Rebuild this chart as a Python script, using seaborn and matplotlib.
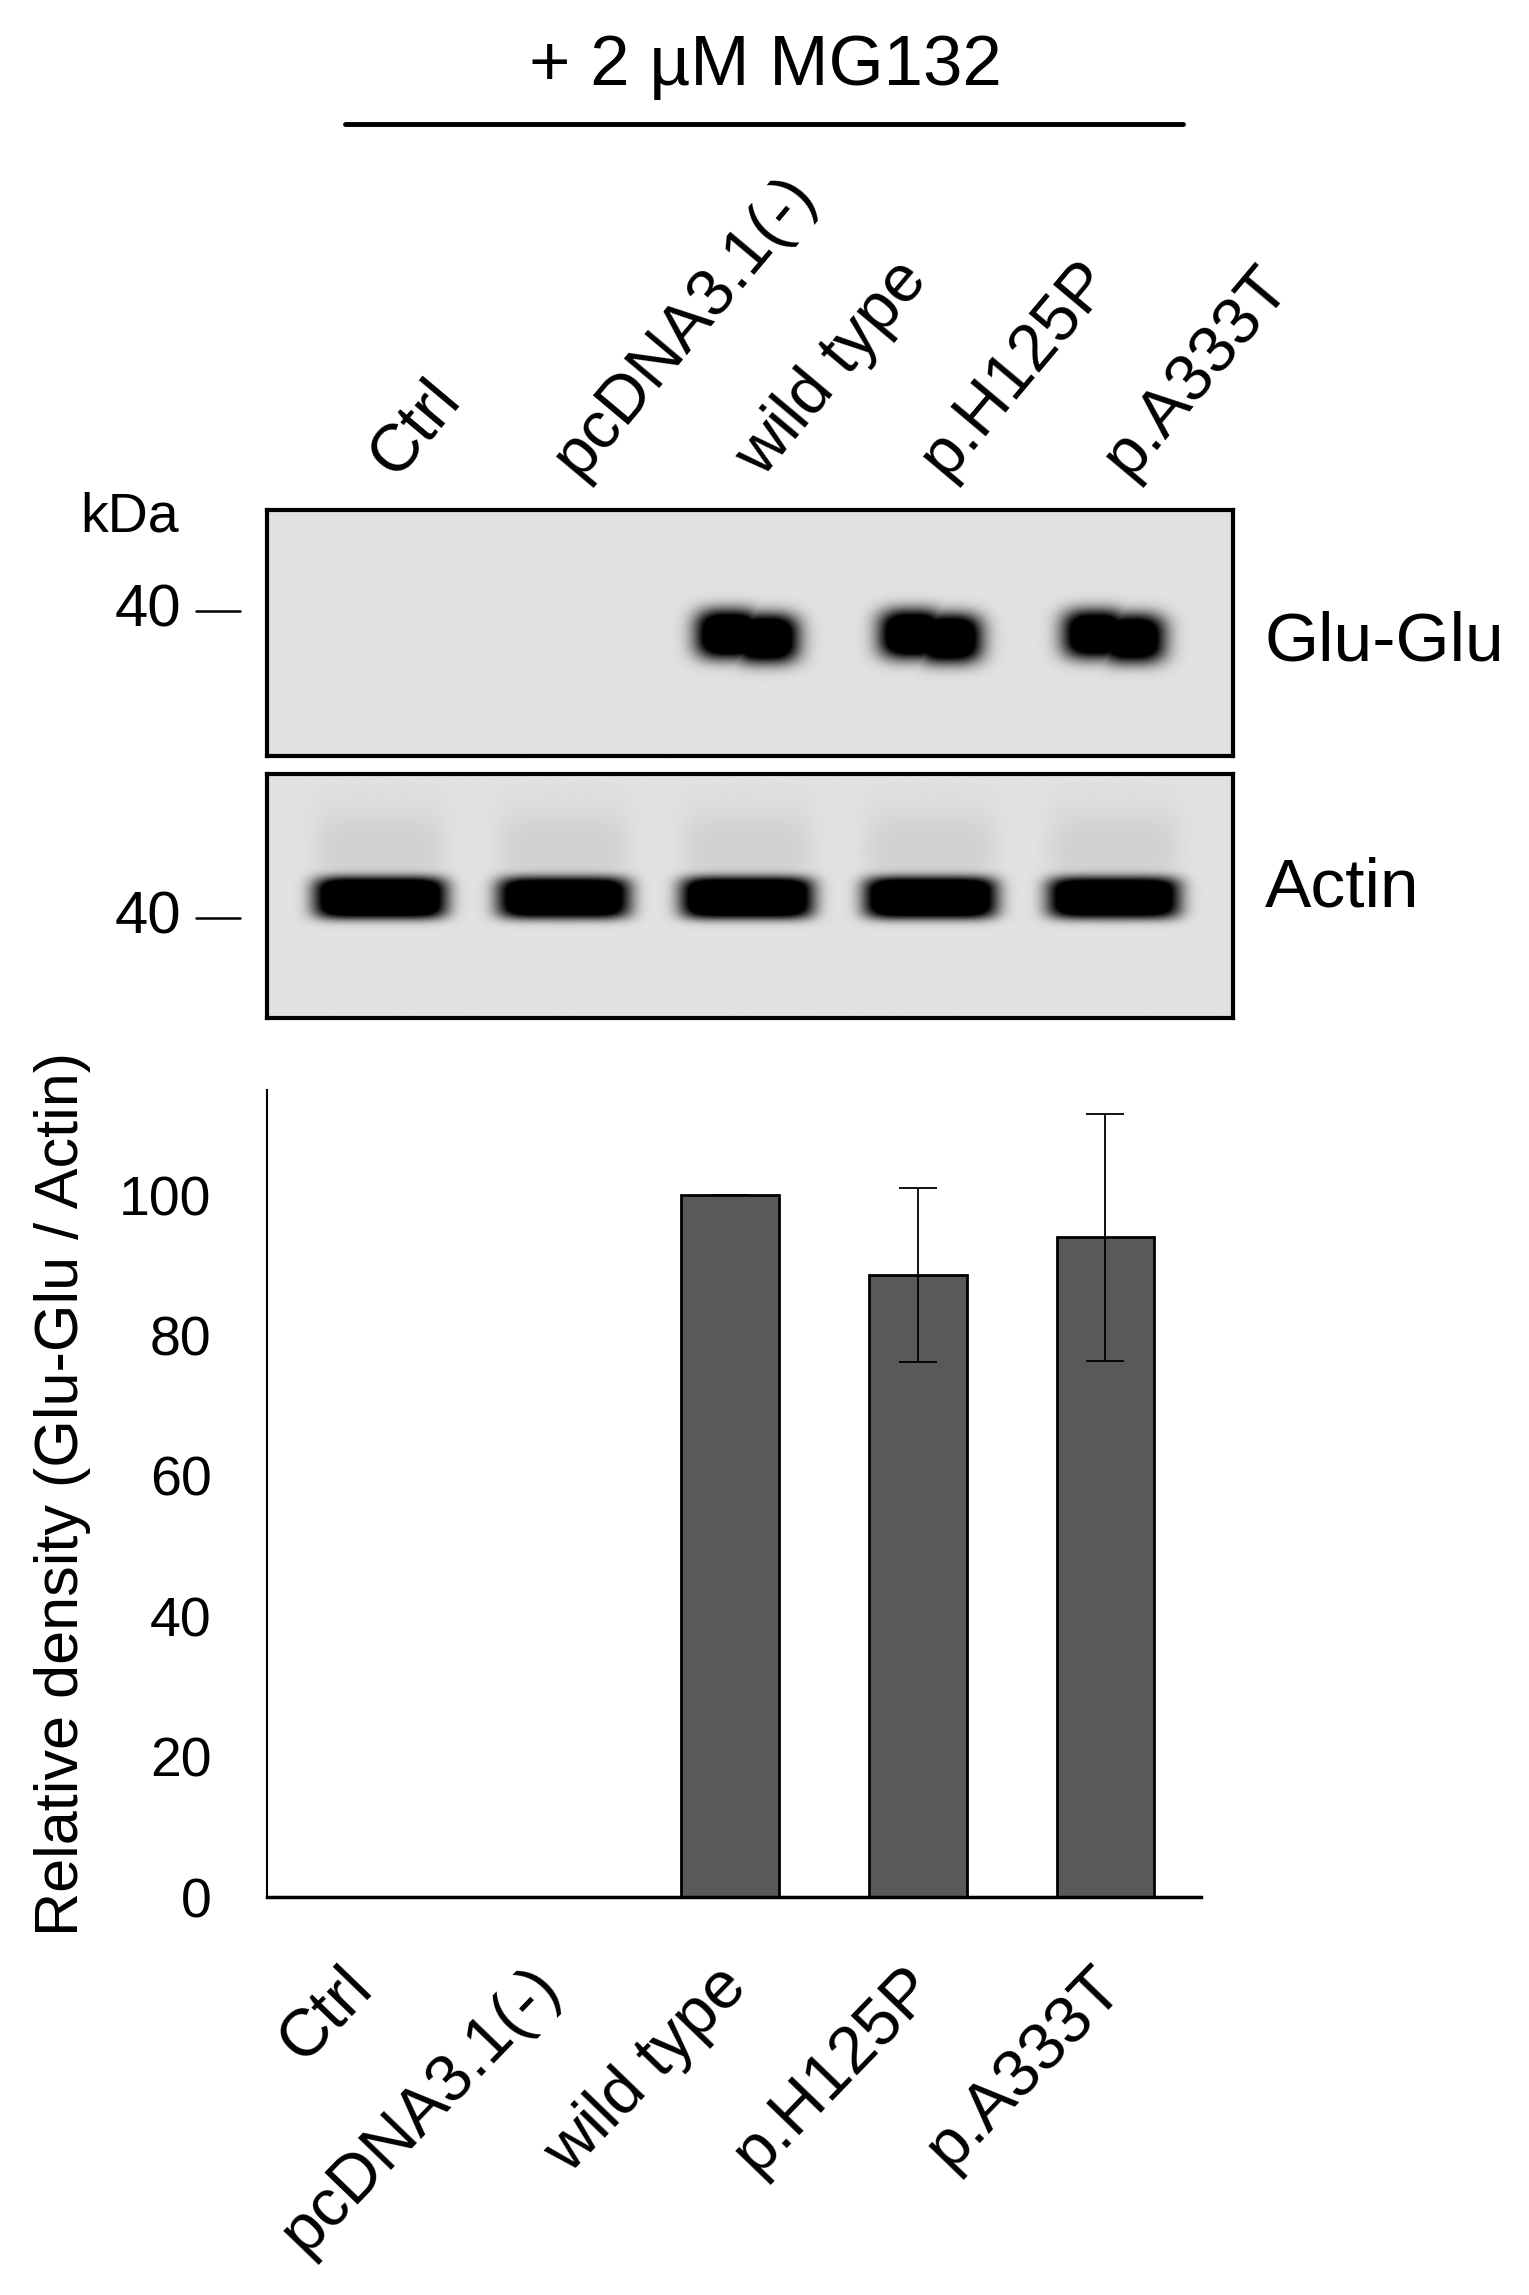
import numpy as np
import pandas as pd
import seaborn as sns
import matplotlib.pyplot as plt
from matplotlib.transforms import blended_transform_factory, ScaledTranslation

lanes = ['Ctrl', 'pcDNA3.1(-)', 'wild type', 'p.H125P', 'p.A333T']
glu_glu_band = [0.0, 0.0, 1.0, 1.0, 0.95]
actin_band = [1.0, 0.95, 1.0, 1.0, 0.95]
rel_density = [0.0, 0.0, 100.0, 88.7, 94.0]
rel_sd = [np.nan, np.nan, 0.0, 12.4, 17.6]
y_ticks = [0, 20, 40, 60, 80, 100]

sns.set_style('white')
plt.rcParams['font.family'] = ['Liberation Sans', 'DejaVu Sans']
for k in ['text.color', 'axes.labelcolor', 'xtick.color', 'ytick.color']:
    plt.rcParams[k] = 'black'

W, H = 1529, 2295
fig = plt.figure(figsize=(W / 100, H / 100), dpi=100)


def px_axes(x0, y0, x1, y1):
    return fig.add_axes([x0 / W, 1 - y1 / H, (x1 - x0) / W, (y1 - y0) / H])


# overlay in pixel units for the loose annotations
over = px_axes(0, 0, W, H)
over.set_xlim(0, W)
over.set_ylim(H, 0)
over.axis('off')
over.text(765, 67, '+ 2 µM MG132', fontsize=51, ha='center', va='center')
over.plot([345, 1183], [124, 124], color='black', lw=3.5)
over.text(80, 518, 'kDa', fontsize=40, ha='left', va='center')
for yy in [611, 918]:
    over.text(181, yy, '40', fontsize=43, ha='right', va='center')
    over.plot([196, 240], [yy, yy], color='black', lw=1.8)

lane_lo, lane_hi = -0.616, 4.647


def draw_blot(ax, levels, hw, hh, yc, lobes=False, smear=0.0):
    xs = np.linspace(lane_lo, lane_hi, 1000)
    ys = np.linspace(0, 1, 300)
    X, Y = np.meshgrid(xs, ys)
    dark = np.zeros_like(X)
    for i, lv in enumerate(levels):
        if lv == 0:
            continue
        if lobes:
            # doublet look: two overlapping soft blobs
            p = np.zeros_like(X)
            for dx, dy in [(-0.1, -0.005), (0.1, 0.012)]:
                blob = (np.exp(-np.abs((X - i - dx) / (hw * 0.62)) ** 3)
                        * np.exp(-np.abs((Y - yc - dy) / hh) ** 3))
                p = np.maximum(p, blob)
        else:
            p = np.exp(-((X - i) / hw) ** 6) * np.exp(-((Y - yc) / hh) ** 4)
        px = np.exp(-((X - i) / hw) ** 6)
        s = smear * px * np.exp(-((Y - (yc - 0.2)) / 0.18) ** 2)
        dark = np.maximum(dark, lv * p + s)
    img = 0.885 * (1 - np.clip(1.6 * dark, 0, 1))
    ax.imshow(img, cmap='gray', vmin=0, vmax=1, extent=(lane_lo, lane_hi, 1, 0),
              aspect='auto', interpolation='bilinear')
    ax.set_xlim(lane_lo, lane_hi)
    ax.set_ylim(1, 0)
    ax.set_xticks([])
    ax.set_yticks([])
    for sp in ax.spines.values():
        sp.set_visible(True)
        sp.set_linewidth(3)
        sp.set_color('black')


ax1 = px_axes(267, 510, 1233, 756)
draw_blot(ax1, glu_glu_band, 0.29, 0.1, 0.51, lobes=True)
ax1.text(1.033, 0.46, 'Glu-Glu', transform=ax1.transAxes, fontsize=50, ha='left', va='center')
trans = blended_transform_factory(ax1.transData, ax1.transAxes)
for i, lab in enumerate(lanes):
    ax1.text(i + 0.14, 1.09, lab, transform=trans, fontsize=48, rotation=50,
             rotation_mode='anchor', ha='left', va='bottom')

ax2 = px_axes(267, 774, 1233, 1018)
draw_blot(ax2, actin_band, 0.36, 0.085, 0.51, smear=0.05)
ax2.text(1.033, 0.53, 'Actin', transform=ax2.transAxes, fontsize=50, ha='left', va='center')

# bar chart
axb = px_axes(267, 1090, 1201, 1897)
df = pd.DataFrame({'lane': lanes, 'density': rel_density})
sns.barplot(data=df, x='lane', y='density', color='#595959', saturation=1, width=0.52,
            edgecolor='black', linewidth=2, errorbar=None, ax=axb)
idx = [i for i, s in enumerate(rel_sd) if s == s]
axb.errorbar(idx, [rel_density[i] for i in idx], yerr=[rel_sd[i] for i in idx],
             fmt='none', ecolor='black', elinewidth=1.3, capsize=14, capthick=1.3)
axb.set_xlim(-0.47, 4.51)
axb.set_ylim(0, 115)
axb.set_yticks(y_ticks)
axb.tick_params(axis='y', length=0, pad=40, labelsize=40)
axb.tick_params(axis='x', length=0, pad=42, labelsize=48)
axb.set_xticks(range(len(lanes)))
axb.set_xticklabels(lanes, rotation=46, ha='right', rotation_mode='anchor')
for lab in axb.get_xticklabels():
    lab.set_transform(lab.get_transform() + ScaledTranslation(-0.15, 0, fig.dpi_scale_trans))
axb.set_xlabel('')
axb.set_ylabel('Relative density (Glu-Glu / Actin)', fontsize=44, labelpad=20)
sns.despine(ax=axb)
axb.spines['left'].set_linewidth(1.5)
axb.spines['bottom'].set_linewidth(2.5)
axb.spines['left'].set_color('black')
axb.spines['bottom'].set_color('black')

fig.savefig('out.png', dpi=100)
